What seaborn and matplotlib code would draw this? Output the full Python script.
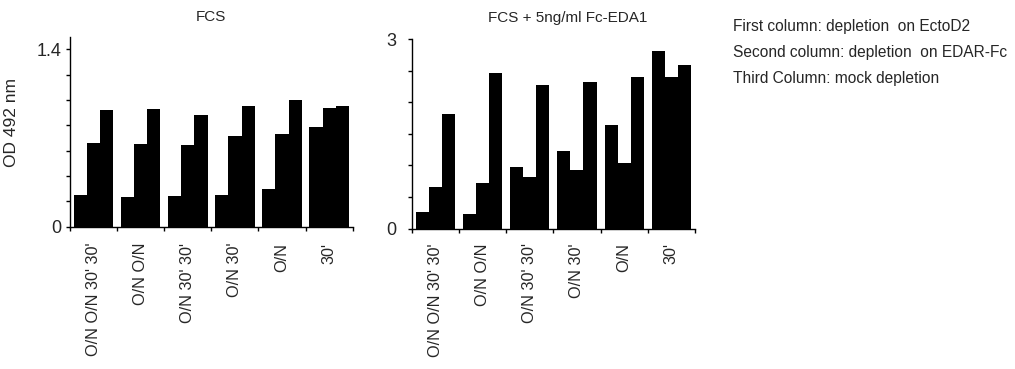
import numpy as np
import pandas as pd
import matplotlib
matplotlib.use("Agg")
import matplotlib.pyplot as plt
import seaborn as sns

# x categories (pre-treatment schedule) and the three depletion columns
groups = ["O/N O/N 30' 30'", "O/N O/N", "O/N 30' 30'", "O/N 30'", "O/N", "30'"]
columns = ["EctoD2", "EDAR-Fc", "mock"]

# OD 492 nm, panel 1: FCS
fcs_ectod2 = [0.25, 0.235, 0.245, 0.25, 0.30, 0.79]
fcs_edarfc = [0.66, 0.65, 0.645, 0.715, 0.73, 0.935]
fcs_mock = [0.92, 0.93, 0.88, 0.955, 1.0, 0.95]

# OD 492 nm, panel 2: FCS + 5ng/ml Fc-EDA1
eda_ectod2 = [0.27, 0.24, 0.97, 1.23, 1.64, 2.81]
eda_edarfc = [0.665, 0.73, 0.82, 0.925, 1.035, 2.40]
eda_mock = [1.81, 2.46, 2.28, 2.325, 2.40, 2.595]

legend_lines = [
    "First column: depletion  on EctoD2",
    "Second column: depletion  on EDAR-Fc",
    "Third Column: mock depletion",
]


def long_df(a, b, c):
    rows = []
    for col, vals in zip(columns, [a, b, c]):
        for g, v in zip(groups, vals):
            rows.append({"group": g, "column": col, "od": v})
    return pd.DataFrame(rows)


df_fcs = long_df(fcs_ectod2, fcs_edarfc, fcs_mock)
df_eda = long_df(eda_ectod2, eda_edarfc, eda_mock)

sns.set_style("ticks")
plt.rcParams["font.family"] = ["Liberation Sans", "DejaVu Sans"]

fig = plt.figure(figsize=(10.15, 3.69), dpi=100)
ax1 = fig.add_axes([0.0690, 0.3856, 0.2785, 0.515])
ax2 = fig.add_axes([0.4056, 0.3802, 0.2791, 0.514])


def draw(ax, df, ymax, step, ylabels, width, xpad, ypad):
    sns.barplot(data=df, x="group", y="od", hue="column", order=groups,
                hue_order=columns, palette=["black"] * 3, saturation=1,
                width=width, errorbar=None, legend=False,
                edgecolor="none", linewidth=0, ax=ax)
    ax.set_xlim(-0.5, len(groups) - 0.5)
    ax.set_ylim(0, ymax)
    for s in ["top", "right"]:
        ax.spines[s].set_visible(False)
    for s in ["left", "bottom"]:
        ax.spines[s].set_linewidth(1)
        ax.spines[s].set_color("black")
    ax.set_xlabel("")
    ax.set_ylabel("")
    ax.set_xticks(range(len(groups)))
    ax.set_xticklabels(groups, rotation=90, fontsize=11.7, va="top")
    ax.set_xticks(np.arange(-0.5, len(groups), 1.0), minor=True)
    ax.tick_params(axis="x", which="major", length=0, pad=xpad)
    ax.tick_params(axis="x", which="minor", length=3, width=1, color="black")
    yt = np.arange(0, ylabels[-1] + step / 2, step)
    ax.set_yticks(yt)
    ax.set_yticklabels([f"{v:g}" if np.isclose(v, ylabels).any() else "" for v in yt],
                       fontsize=13)
    ax.tick_params(axis="y", length=3, width=1, color="black", pad=ypad)


draw(ax1, df_fcs, 1.5, 0.2, [0, 1.4], 0.84, 11.5, 3.5)
draw(ax2, df_eda, 3.0, 0.5, [0, 3], 0.83, 10.3, 8.3)

ax1.set_ylabel("OD 492 nm", fontsize=12.5)
ax1.yaxis.set_label_coords(-0.18, 0.546)

ax1.set_title("FCS", fontsize=11, pad=11)
ax2.set_title("FCS + 5ng/ml Fc-EDA1", fontsize=11, pad=12, x=0.55)

for i, line in enumerate(legend_lines):
    fig.text(733 / 1015, 1 - (27 + 26 * i) / 369, line, fontsize=11.2,
             va="center", ha="left")

fig.savefig("out.png", dpi=100)
